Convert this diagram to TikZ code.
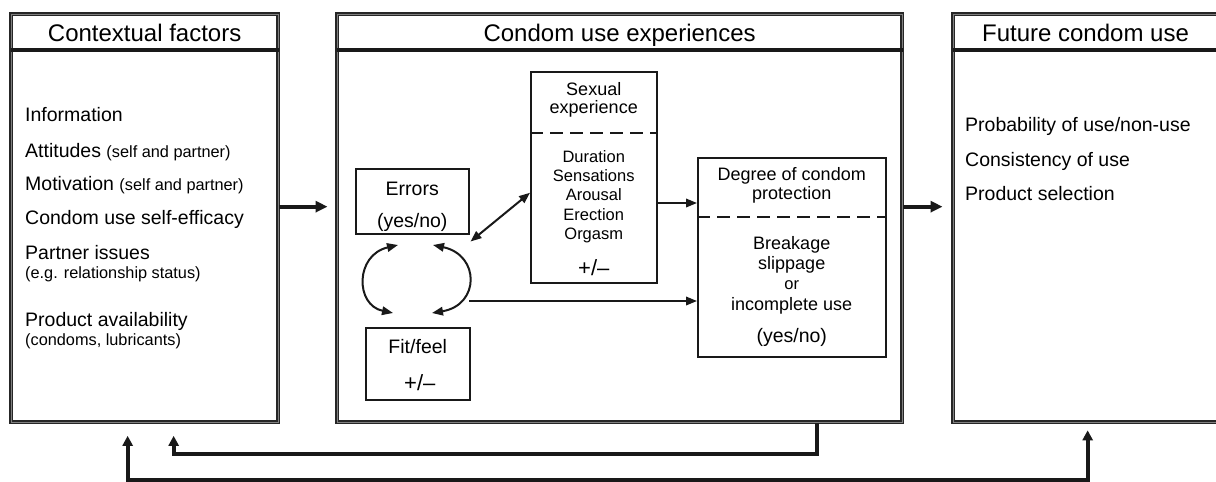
\documentclass[tikz,border=0pt]{standalone}
\usepackage{fontspec}
\setmainfont{Liberation Sans}
\usetikzlibrary{arrows.meta,calc}
\newcommand\szH{\fontsize{24}{28}\selectfont}
\newcommand\szB{\fontsize{19.5}{23}\selectfont}
\newcommand\szS{\fontsize{16.3}{19}\selectfont}
\newcommand\szM{\fontsize{18}{21}\selectfont}
\newcommand\szL{\fontsize{16.5}{19}\selectfont}
\newcommand\szP{\fontsize{22}{25}\selectfont}
\begin{document}
\begin{tikzpicture}[x=1pt,y=-1pt,
 frame/.style={draw=black!85, line width=1.3pt, double=black!50, double distance=0.9pt,
   minimum height=408pt, anchor=north west, inner sep=0pt},
 ibox/.style={draw=black!90, line width=1.5pt, anchor=north west, inner sep=0pt},
 txt/.style={anchor=base, inner sep=0pt},
 ltxt/.style={anchor=base west, inner sep=0pt},
 divider/.style={line width=3.2pt, black!90},
 dashdiv/.style={line width=1.5pt, black!90, dash pattern=on 13pt off 7pt},
 bigarr/.style={line width=3.8pt, black!90, -{Triangle[length=12pt,width=11pt]}},
 fbarr/.style={line width=3.8pt, black!90, line join=miter},
 iarr/.style={line width=2pt, black!90, -{Triangle[length=11pt,width=8.5pt]}},
 iarrb/.style={line width=2pt, black!90, {Triangle[length=11pt,width=8.5pt]}-{Triangle[length=11pt,width=8.5pt]}}
]
\useasboundingbox (0,0) rectangle (1216,482);

% main frames
\node[frame, minimum width=267pt] (ctx) at (10.5,13.5) {};
\node[frame, minimum width=565pt] (exp) at (336.5,13.5) {};
\node[frame, minimum width=300pt] (fut) at (952.5,13.5) {};

\draw[divider] (ctx.west |- 0,50) -- (ctx.east |- 0,50);
\draw[divider] (exp.west |- 0,50) -- (exp.east |- 0,50);
\draw[divider] (fut.west |- 0,50) -- (fut.east |- 0,50);

\node[txt] (h1) at (ctx.north |- 0,41.5) {\szH Contextual factors};
\node[txt] (h2) at (exp.north |- 0,41.5) {\szH Condom use experiences};
\node[txt] (h3) at (1085.5,41.5) {\szH Future condom use};

% left list
\node[ltxt] (i1) at (25,121.7) {\szB Information};
\node[ltxt] (i2) at (25,157) {\szB Attitudes {\szS(self and partner)}};
\node[ltxt] (i3) at (25,190.7) {\szB Motivation {\szS(self and partner)}};
\node[ltxt] (i4) at (25,224) {\szB Condom use self-efficacy};
\node[ltxt] (i5) at (25,259) {\szB Partner issues};
\node[ltxt] (i6) at (25,278) {\szS(e.g. relationship status)};
\node[ltxt] (i7) at (25,326.5) {\szB Product availability};
\node[ltxt] (i8) at (25,345) {\szS(condoms, lubricants)};

% right list
\node[ltxt] (r1) at (965,131) {\szB Probability of use/non-use};
\node[ltxt] (r2) at (965,166.5) {\szB Consistency of use};
\node[ltxt] (r3) at (965,200) {\szB Product selection};

% inner boxes
\node[ibox, minimum width=113pt, minimum height=65pt] (err) at (355,168) {};
\node[ibox, minimum width=126pt, minimum height=211pt] (sex) at (530,71) {};
\node[ibox, minimum width=188pt, minimum height=199pt] (deg) at (697,157) {};
\node[ibox, minimum width=104pt, minimum height=72pt] (fit) at (365,327) {};

\draw[dashdiv] (sex.west |- 0,133) -- (sex.east |- 0,133);
\draw[dashdiv] (deg.west |- 0,217) -- (deg.east |- 0,217);

% inner texts
\node[txt] (e1) at (err.north |- 0,195) {\szB Errors};
\node[txt] (e2) at (err.north |- 0,227) {\szB (yes/no)};

\node[txt] (s1) at (sex.north |- 0,95) {\szM Sexual};
\node[txt] (s2) at (sex.north |- 0,113.5) {\szM experience};
\node[txt] (s3) at (sex.north |- 0,162.3) {\szL Duration};
\node[txt] (s4) at (sex.north |- 0,181.7) {\szL Sensations};
\node[txt] (s5) at (sex.north |- 0,200.7) {\szL Arousal};
\node[txt] (s6) at (sex.north |- 0,220) {\szL Erection};
\node[txt] (s7) at (sex.north |- 0,239) {\szL Orgasm};
\node[txt] (s8) at (sex.north |- 0,275) {\szP +/–};

\node[txt] (f1) at (fit.north |- 0,353) {\szB Fit/feel};
\node[txt] (f2) at ([xshift=2pt]fit.north |- 0,390) {\szP +/–};

\node[txt] (d1) at (deg.north |- 0,180) {\szM Degree of condom};
\node[txt] (d2) at (deg.north |- 0,199) {\szM protection};
\node[txt] (d3) at (deg.north |- 0,249) {\szM Breakage};
\node[txt] (d4) at (deg.north |- 0,269) {\szM slippage};
\node[txt] (d5) at (deg.north |- 0,289) {\szL or};
\node[txt] (d6) at (deg.north |- 0,310) {\szM incomplete use};
\node[txt] (d7) at (deg.north |- 0,342) {\szB (yes/no)};

% inner connectors
\draw[iarrb] ([xshift=1pt,yshift=-7pt]err.south east) -- ([yshift=-15.5pt]sex.west);
\draw[iarr] (sex.east |- 0,203) -- (deg.west |- 0,203);
\coordinate (lp) at (469,301);
\draw[iarr] (lp) -- (deg.west |- lp);
\draw[iarrb] (398,245) .. controls (355,255) and (355,305) .. (393,313);
\draw[iarrb] (433,245) .. controls (480,255) and (480,305) .. (432,313);

% main arrows
\draw[bigarr, shorten >=9pt] ([yshift=11.5pt]ctx.east) -- ([yshift=11.5pt]exp.west);
\draw[bigarr, shorten >=10pt] ([yshift=11.5pt]exp.east) -- ([yshift=11.5pt]fut.west);

% feedback arrows
\draw[fbarr, -{Triangle[length=10pt,width=10pt]}, shorten >=13pt]
  ([xshift=197pt]exp.south) -- ++(0,31.5) -| ([xshift=29pt]ctx.south);
\draw[fbarr, {Triangle[length=10pt,width=10pt]}-{Triangle[length=10pt,width=10pt]}, shorten <=7.5pt, shorten >=13pt]
  ([xshift=-15.5pt]fut.south) -- ++(0,57) -| ([xshift=-17pt]ctx.south);
\end{tikzpicture}
\end{document}
